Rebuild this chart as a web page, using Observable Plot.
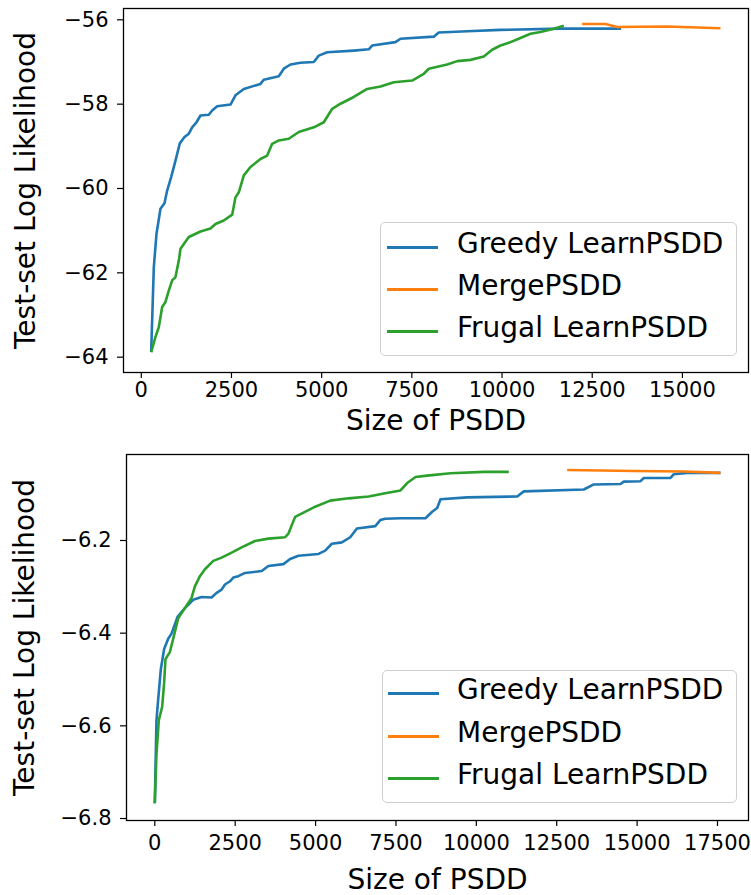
<!DOCTYPE html>
<html>
<head>
<meta charset="utf-8">
<script src="https://cdn.jsdelivr.net/npm/d3@7"></script>
<script src="https://cdn.jsdelivr.net/npm/@observablehq/plot@0.6"></script>
<style>
  body { margin: 0; background: #fff; font-family: "DejaVu Sans", sans-serif; }
  #wrap { position: relative; width: 751px; height: 895px; overflow: hidden; }
  #wrap svg { display: block; }
  .legend { position: absolute; box-sizing: border-box; border: 1px solid #cfcfcf; border-radius: 5px; background: rgba(255,255,255,0.85); }
  .handle { position: absolute; height: 3px; width: 51px; }
  .ltext { position: absolute; font-size: 28px; line-height: 28px; color: #000; white-space: nowrap; }
</style>
</head>
<body>
<div id="wrap"></div>
<script>
// ---------- Series names / colours ----------
const seriesNames = ["Greedy LearnPSDD", "MergePSDD", "Frugal LearnPSDD"];
const seriesColors = ["#1f77b4", "#ff7f0e", "#2ca02c"];

// ---------- Top panel data ----------
const topXTicks = [0, 2500, 5000, 7500, 10000, 12500, 15000];
const topYTicks = [-64, -62, -60, -58, -56];

const topGreedyX = [274, 347, 421, 532, 643, 717, 828, 948, 1068, 1198, 1317, 1410, 1530, 1641, 1872, 1965, 2104, 2473, 2611, 2842, 3304, 3396, 3812, 3950, 4136, 4413, 4782, 4920, 5153, 5891, 6306, 6400, 7046, 7185, 8108, 8247, 9034, 9957, 11620, 13300];
const topGreedyY = [-63.88, -61.87, -61.08, -60.48, -60.35, -60.05, -59.73, -59.34, -58.93, -58.78, -58.70, -58.55, -58.43, -58.27, -58.25, -58.15, -58.05, -58.01, -57.79, -57.64, -57.52, -57.42, -57.34, -57.16, -57.06, -57.02, -57.00, -56.85, -56.77, -56.73, -56.70, -56.61, -56.53, -56.45, -56.40, -56.30, -56.27, -56.24, -56.21, -56.21];

const topMergeX = [12221, 12868, 13192, 14578, 16055];
const topMergeY = [-56.10, -56.10, -56.17, -56.16, -56.20];

const topFrugalX = [274, 394, 485, 579, 671, 762, 856, 948, 1040, 1087, 1317, 1641, 1918, 2057, 2287, 2520, 2611, 2703, 2842, 3027, 3304, 3490, 3628, 3812, 4089, 4366, 4782, 5059, 5292, 5522, 5891, 6262, 6631, 7000, 7509, 7831, 7970, 8479, 8757, 9125, 9495, 9726, 9957, 10234, 10511, 10788, 11066, 11435, 11712];
const topFrugalY = [-63.88, -63.52, -63.29, -62.81, -62.69, -62.42, -62.18, -62.10, -61.71, -61.43, -61.15, -61.02, -60.95, -60.84, -60.76, -60.62, -60.21, -60.09, -59.69, -59.49, -59.30, -59.22, -58.94, -58.86, -58.82, -58.66, -58.55, -58.43, -58.11, -57.99, -57.83, -57.64, -57.58, -57.48, -57.44, -57.28, -57.16, -57.06, -56.98, -56.95, -56.87, -56.71, -56.61, -56.53, -56.43, -56.33, -56.29, -56.21, -56.14];

// ---------- Bottom panel data ----------
const botXTicks = [0, 2500, 5000, 7500, 10000, 12500, 15000, 17500];
const botYTicks = [-6.8, -6.6, -6.4, -6.2];

const botGreedyX = [0, 52, 104, 187, 291, 416, 520, 707, 935, 1195, 1455, 1766, 1922, 2078, 2182, 2338, 2442, 2598, 2805, 3325, 3533, 4000, 4208, 4468, 5091, 5299, 5507, 5818, 6078, 6286, 6857, 7013, 7169, 7641, 8419, 8626, 8782, 8885, 9715, 11270, 11476, 13342, 13653, 14483, 14586, 15105, 15209, 16038, 16142, 16557, 17593];
const botGreedyY = [-6.767, -6.588, -6.544, -6.478, -6.434, -6.412, -6.401, -6.365, -6.346, -6.328, -6.322, -6.323, -6.313, -6.306, -6.295, -6.288, -6.280, -6.277, -6.270, -6.266, -6.255, -6.251, -6.240, -6.233, -6.229, -6.222, -6.207, -6.204, -6.193, -6.174, -6.169, -6.156, -6.153, -6.152, -6.152, -6.138, -6.130, -6.111, -6.107, -6.105, -6.094, -6.090, -6.079, -6.078, -6.073, -6.072, -6.065, -6.065, -6.057, -6.054, -6.054];

const botMergeX = [12825, 14897, 16452, 17593];
const botMergeY = [-6.048, -6.050, -6.051, -6.054];

const botFrugalX = [0, 52, 125, 229, 291, 332, 468, 572, 727, 935, 1143, 1247, 1403, 1559, 1818, 2078, 2390, 2701, 3117, 3533, 4052, 4156, 4364, 4624, 4987, 5455, 6026, 6650, 7169, 7641, 7849, 8108, 8471, 9196, 10232, 11009];
const botFrugalY = [-6.767, -6.661, -6.588, -6.559, -6.507, -6.456, -6.441, -6.412, -6.368, -6.346, -6.324, -6.299, -6.277, -6.262, -6.244, -6.237, -6.226, -6.215, -6.201, -6.196, -6.193, -6.185, -6.149, -6.140, -6.127, -6.114, -6.109, -6.105, -6.098, -6.092, -6.076, -6.063, -6.060, -6.055, -6.052, -6.052];

// ---------- helpers ----------
const toRows = (xs, ys) => xs.map((x, i) => ({x, y: ys[i]}));

function panel(cfg) {
  const series = [
    toRows(cfg.greedyX, cfg.greedyY),
    toRows(cfg.mergeX, cfg.mergeY),
    toRows(cfg.frugalX, cfg.frugalY)
  ];
  return Plot.plot({
    width: 751,
    height: cfg.height,
    marginTop: cfg.mt, marginBottom: cfg.mb, marginLeft: cfg.ml, marginRight: 3,
    style: {fontFamily: "DejaVu Sans, sans-serif", color: "#000", background: "#fff", overflow: "visible"},
    x: {domain: cfg.xDomain},
    y: {domain: cfg.yDomain},
    marks: [
      ...series.map((rows, i) => Plot.line(rows, {x: "x", y: "y", stroke: seriesColors[i], strokeWidth: 2.6, strokeLinejoin: "round", strokeLinecap: "butt"})),
      Plot.frame({stroke: "#000", strokeWidth: 1.3}),
      Plot.axisX(cfg.xTicks, {tickSize: 6, tickPadding: cfg.xPad, tickFormat: d3.format("d"), fontSize: 21, label: null, strokeWidth: 1.2}),
      Plot.axisX([], {label: "Size of PSDD", labelAnchor: "center", labelArrow: "none", labelOffset: cfg.xLabelOffset, fontSize: 28, tickSize: 0}),
      Plot.axisY(cfg.yTicks, {tickSize: 6, tickPadding: 9, tickFormat: cfg.yFormat, fontSize: 21, label: null, strokeWidth: 1.2}),
      Plot.axisY([], {label: "Test-set Log Likelihood", labelAnchor: "center", labelArrow: "none", labelOffset: cfg.yLabelOffset, fontSize: 28, tickSize: 0})
    ]
  });
}

function legend(box) {
  const div = document.createElement("div");
  div.className = "legend";
  Object.assign(div.style, {left: box.left + "px", top: box.top + "px", width: box.width + "px", height: box.height + "px"});
  seriesNames.forEach((name, i) => {
    const cy = box.rows[i];
    const h = document.createElement("div");
    h.className = "handle";
    Object.assign(h.style, {left: box.hx + "px", top: (cy - 1.5) + "px", background: seriesColors[i]});
    const t = document.createElement("div");
    t.className = "ltext";
    t.textContent = name;
    Object.assign(t.style, {left: box.tx + "px", top: (cy - 17) + "px"});
    div.appendChild(h);
    div.appendChild(t);
  });
  return div;
}

const wrap = document.getElementById("wrap");

wrap.appendChild(panel({
  height: 445, mt: 8, mb: 73, ml: 123,
  xDomain: [-493, 16832], yDomain: [-64.363, -55.732],
  xTicks: topXTicks, yTicks: topYTicks, yFormat: d3.format("d"),
  xPad: 4, xLabelOffset: 57, yLabelOffset: 108,
  greedyX: topGreedyX, greedyY: topGreedyY,
  mergeX: topMergeX, mergeY: topMergeY,
  frugalX: topFrugalX, frugalY: topFrugalY
}));

wrap.appendChild(panel({
  height: 450, mt: 9, mb: 75, ml: 126,
  xDomain: [-880, 18464], yDomain: [-6.8043, -6.0144],
  xTicks: botXTicks, yTicks: botYTicks, yFormat: d3.format(".1f"),
  xPad: 9, xLabelOffset: 68, yLabelOffset: 112,
  greedyX: botGreedyX, greedyY: botGreedyY,
  mergeX: botMergeX, mergeY: botMergeY,
  frugalX: botFrugalX, frugalY: botFrugalY
}));

wrap.appendChild(legend({left: 380, top: 222, width: 357, height: 134, hx: 6, tx: 76, rows: [24, 66, 108]}));
wrap.appendChild(legend({left: 382, top: 670, width: 355, height: 133, hx: 5, tx: 74, rows: [22, 65, 107]}));
</script>
</body>
</html>
